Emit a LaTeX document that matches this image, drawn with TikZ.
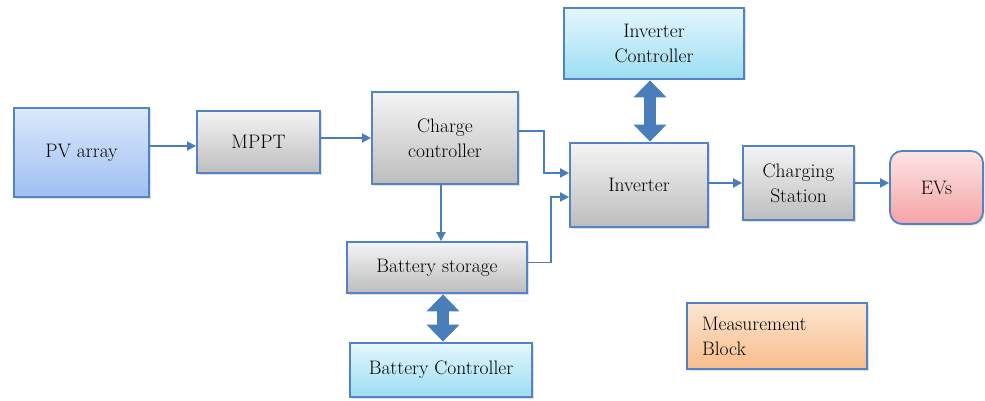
\documentclass[tikz,border=0pt]{standalone}
\definecolor{edge}{HTML}{5383C3}
\definecolor{link}{HTML}{4A7EBB}
\definecolor{pvtop}{HTML}{DCE8FB}
\definecolor{pvbot}{HTML}{9DC0F2}
\definecolor{graytop}{HTML}{F4F4F4}
\definecolor{graybot}{HTML}{BDBDBD}
\definecolor{cyantop}{HTML}{E4F7FD}
\definecolor{cyanbot}{HTML}{9CDDF3}
\definecolor{pinktop}{HTML}{FDE4E4}
\definecolor{pinkbot}{HTML}{F5A3A6}
\definecolor{orngtop}{HTML}{FDE6D3}
\definecolor{orngbot}{HTML}{F8BC8A}
\usetikzlibrary{arrows.meta,positioning,shadows}

\begin{document}
\begin{tikzpicture}[x=1pt,y=-1pt,font=\rmfamily\fontsize{19.5}{25}\selectfont,
  base/.style={draw=edge,line width=1.8pt,align=center,inner sep=3pt,
    drop shadow={opacity=0.25,shadow xshift=1.5pt,shadow yshift=-1.5pt}},
  bluebox/.style={base,top color=pvtop,bottom color=pvbot},
  graybox/.style={base,top color=graytop,bottom color=graybot},
  cyanbox/.style={base,top color=cyantop,bottom color=cyanbot},
  pinkbox/.style={base,rounded corners=12pt,top color=pinktop,bottom color=pinkbot},
  orangebox/.style={base,align=left,top color=orngtop,bottom color=orngbot},
  arr/.style={-{Triangle[length=9pt,width=9pt]},draw=link,line width=1.8pt},
  dbl/.style={{Triangle[length=17pt,width=32pt]}-{Triangle[length=17pt,width=32pt]},draw=link,line width=12pt,shorten <=0.5pt,shorten >=0.5pt}]
\useasboundingbox (0,0) rectangle (985,401);
\node[bluebox,minimum width=135pt,minimum height=89pt] (pv) at (81.5,152.5) {PV array};
\node[graybox,minimum width=123pt,minimum height=62pt] (mppt) at (258.5,142) {MPPT};
\node[graybox,minimum width=146pt,minimum height=92pt] (cc) at (445,138) {Charge\\controller};
\node[cyanbox,minimum width=180pt,minimum height=71pt] (invc) at (654,43.5) {Inverter\\Controller};
\node[graybox,minimum width=138pt,minimum height=84pt] (inv) at (639,185) {Inverter};
\node[graybox,minimum width=180pt,minimum height=51pt] (bat) at (437,267.5) {Battery storage};
\node[cyanbox,minimum width=182pt,minimum height=54pt] (batc) at (441,370) {Battery Controller};
\node[graybox,minimum width=111pt,minimum height=74pt] (cs) at (798.5,183) {Charging\\Station};
\node[pinkbox,minimum width=93pt,minimum height=73pt] (ev) at (936.5,187.5) {EVs};
\node[orangebox,text width=150pt,minimum width=180pt,minimum height=66pt] (meas) at (777,336) {Measurement\\Block};
% power flow
\draw[arr] ([yshift=-4pt]pv.east |- mppt.west) -- ([yshift=-4pt]mppt.west);
\draw[arr] (mppt.east |- cc.west) -- (cc.west);
\draw[arr] ([yshift=7pt]cc.east) -- ++(25,0) |- ([yshift=12pt]inv.west);
\draw[arr] (cc.south -| bat.north) ++(4,0) -- ([xshift=4pt]bat.north);
\draw[arr] ([yshift=5pt]bat.east) -- ++(23,0) |- ([yshift=-12pt]inv.west);
\draw[arr] (inv.east |- cs.west) -- (cs.west);
\draw[arr] (cs.east) -- (cs.east -| ev.west);
% control links
\draw[dbl] (inv.north -| invc.south) ++(-4,0) -- ([xshift=-4pt]invc.south);
\draw[dbl] ([xshift=6pt]bat.south) -- ([xshift=2pt]batc.north);
\end{tikzpicture}
\end{document}
